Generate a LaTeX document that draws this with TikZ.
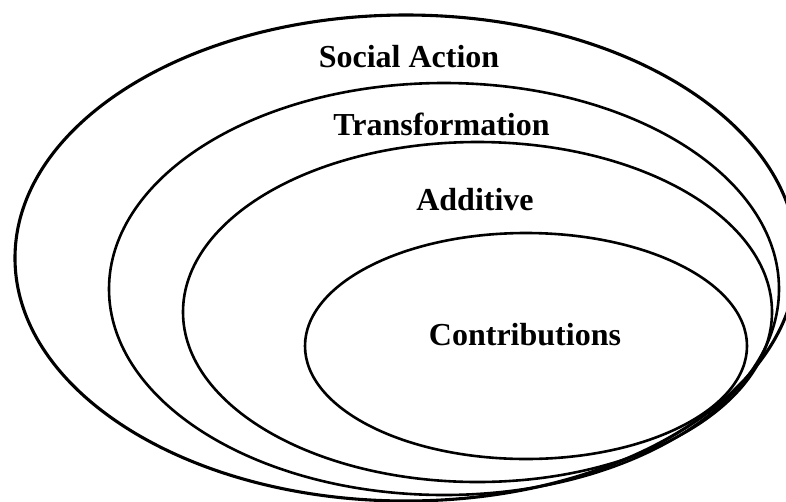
\documentclass[tikz,border=0pt]{standalone}
\usepackage{fontspec}
\setmainfont{Liberation Serif}
\begin{document}
\begin{tikzpicture}[x=1pt,y=-1pt,
  ring/.style={draw=black,line width=2.6pt},
  outerring/.style={draw=black,line width=3.1pt},
  lab/.style={font=\fontsize{32}{36}\selectfont\bfseries,inner sep=0pt,anchor=base}]
\useasboundingbox (0,0) rectangle (786,501);
\fill[white] (0,0) rectangle (786,501);
\clip (0,0) rectangle (786,501);
% nested ellipses
\draw[outerring] (406,258) ellipse [x radius=391pt, y radius=243pt];
\draw[ring] (444,289) ellipse [x radius=335pt, y radius=206pt];
\draw[ring] (477.5,312) ellipse [x radius=294.5pt, y radius=170pt];
\draw[ring] (526,346) ellipse [x radius=221pt, y radius=113pt];
% labels
\node[lab] (social) at (409,67) {Social Action};
\node[lab] (transf) at (441.5,135) {Transformation};
\node[lab] (additive) at (475,210) {Additive};
\node[lab] (contrib) at (525,345) {Contributions};
\end{tikzpicture}
\end{document}
